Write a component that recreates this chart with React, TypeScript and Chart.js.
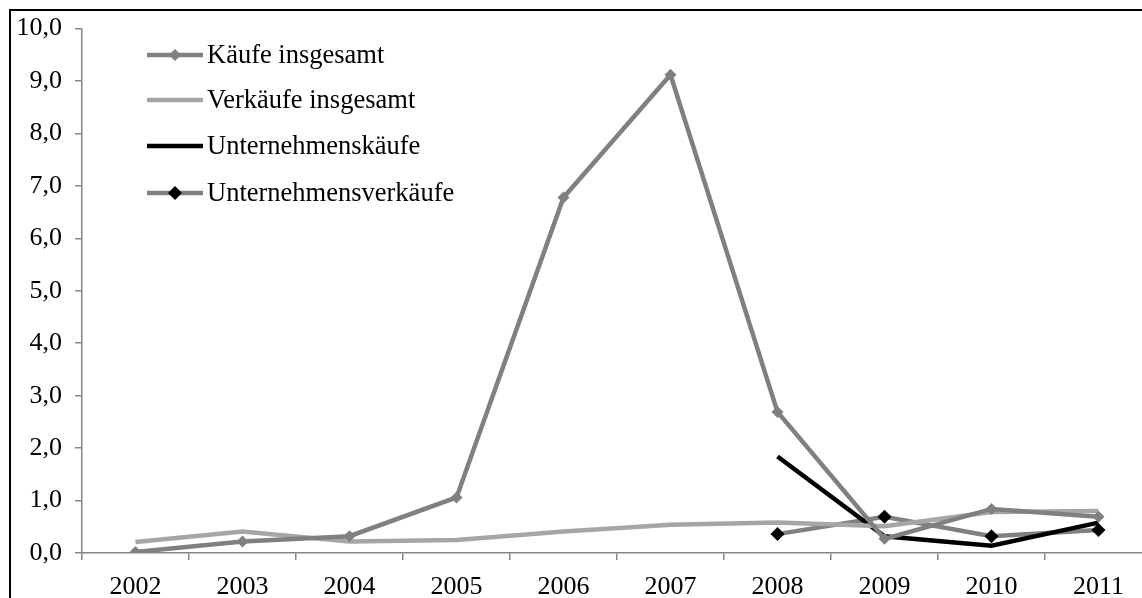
import React, { useEffect, useRef } from "react";
import { Chart, registerables } from "chart.js";

Chart.register(...registerables);

const years = ["2002", "2003", "2004", "2005", "2006", "2007", "2008", "2009", "2010", "2011"];
const kaeufeInsgesamt = [0.02, 0.22, 0.32, 1.06, 6.78, 9.12, 2.69, 0.27, 0.84, 0.69];
const verkaeufeInsgesamt = [0.21, 0.41, 0.22, 0.25, 0.41, 0.54, 0.58, 0.51, 0.78, 0.8];
const unternehmensKaeufe = [null, null, null, null, null, null, 1.84, 0.32, 0.14, 0.58];
const unternehmensVerkaeufe = [null, null, null, null, null, null, 0.36, 0.69, 0.32, 0.44];
const yTicks = [0, 1, 2, 3, 4, 5, 6, 7, 8, 9, 10];

const FONT = "'Liberation Serif', 'Times New Roman', serif";
const W = 1160;
const H = 620;

const legendPlugin = {
  id: "customLegend",
  afterDraw(chart: any) {
    const ctx = chart.ctx;
    ctx.save();
    // outer border
    ctx.strokeStyle = "#000000";
    ctx.lineWidth = 2;
    ctx.strokeRect(10, 10, W, H);
    // legend
    const rows = [55, 100, 146, 193];
    chart.data.datasets.forEach((ds: any, i: number) => {
      const y = rows[i];
      ctx.strokeStyle = ds.borderColor;
      ctx.lineWidth = ds.borderWidth;
      ctx.lineCap = "butt";
      ctx.beginPath();
      ctx.moveTo(147, y);
      ctx.lineTo(203, y);
      ctx.stroke();
      if (ds.pointRadius > 0) {
        const r = ds.pointRadius;
        ctx.fillStyle = ds.pointBackgroundColor;
        ctx.beginPath();
        ctx.moveTo(175, y - r);
        ctx.lineTo(175 + r, y);
        ctx.lineTo(175, y + r);
        ctx.lineTo(175 - r, y);
        ctx.closePath();
        ctx.fill();
      }
      ctx.fillStyle = "#000000";
      ctx.font = `26.5px ${FONT}`;
      ctx.textAlign = "left";
      ctx.textBaseline = "alphabetic";
      ctx.fillText(ds.label, 207, y + 8);
    });
    ctx.restore();
  },
};

export default function App() {
  const ref = useRef<HTMLCanvasElement | null>(null);
  useEffect(() => {
    document.body.style.margin = "0";
    const canvas = ref.current!;
    const chart = new Chart(canvas, {
      type: "line",
      data: {
        labels: years,
        datasets: [
          {
            label: "Käufe insgesamt",
            data: kaeufeInsgesamt,
            borderColor: "#808080",
            backgroundColor: "#808080",
            borderWidth: 4.5,
            pointStyle: "rectRot",
            pointRadius: 6,
            pointBackgroundColor: "#808080",
            pointBorderColor: "#808080",
            pointBorderWidth: 0,
            tension: 0,
          },
          {
            label: "Verkäufe insgesamt",
            data: verkaeufeInsgesamt,
            borderColor: "#a6a6a6",
            backgroundColor: "#a6a6a6",
            borderWidth: 4.5,
            pointRadius: 0,
            pointBackgroundColor: "#a6a6a6",
            tension: 0,
          },
          {
            label: "Unternehmenskäufe",
            data: unternehmensKaeufe,
            borderColor: "#000000",
            backgroundColor: "#000000",
            borderWidth: 4.5,
            pointRadius: 0,
            pointBackgroundColor: "#000000",
            tension: 0,
          },
          {
            label: "Unternehmensverkäufe",
            data: unternehmensVerkaeufe,
            borderColor: "#808080",
            backgroundColor: "#000000",
            borderWidth: 4.5,
            pointStyle: "rectRot",
            pointRadius: 7,
            pointBackgroundColor: "#000000",
            pointBorderColor: "#000000",
            pointBorderWidth: 0,
            tension: 0,
          },
        ],
      },
      options: {
        responsive: false,
        animation: false,
        devicePixelRatio: 1,
        layout: { padding: { left: 0, right: 8, top: 25, bottom: 0 } },
        plugins: {
          legend: { display: false },
          tooltip: { enabled: false },
        },
        scales: {
          x: {
            type: "category",
            offset: true,
            grid: {
              offset: true,
              drawOnChartArea: false,
              drawTicks: true,
              tickLength: 7,
              color: "#868686",
              lineWidth: 1.5,
            },
            border: { display: true, color: "#868686", width: 1.5 },
            ticks: {
              color: "#000000",
              font: { family: FONT, size: 26 },
              padding: 12,
              maxRotation: 0,
              autoSkip: false,
            },
            afterFit: (scale: any) => {
              scale.height = H - 553;
            },
          },
          y: {
            min: 0,
            max: 10,
            afterBuildTicks: (scale: any) => {
              scale.ticks = yTicks.map((v) => ({ value: v }));
            },
            grid: {
              drawOnChartArea: false,
              drawTicks: true,
              tickLength: 7,
              color: "#868686",
              lineWidth: 1.5,
            },
            border: { display: true, color: "#868686", width: 1.5 },
            ticks: {
              color: "#000000",
              font: { family: FONT, size: 26 },
              padding: 13,
              callback: (v: any) => Number(v).toFixed(1).replace(".", ","),
            },
            afterFit: (scale: any) => {
              scale.width = 82;
            },
          },
        },
      },
      plugins: [legendPlugin],
    });
    return () => chart.destroy();
  }, []);
  return (
    <div style={{ position: "absolute", left: 0, top: 0, width: 1142, height: 598, overflow: "hidden", background: "#fff" }}>
      <canvas ref={ref} width={W} height={H} style={{ width: W, height: H, display: "block" }} />
    </div>
  );
}
